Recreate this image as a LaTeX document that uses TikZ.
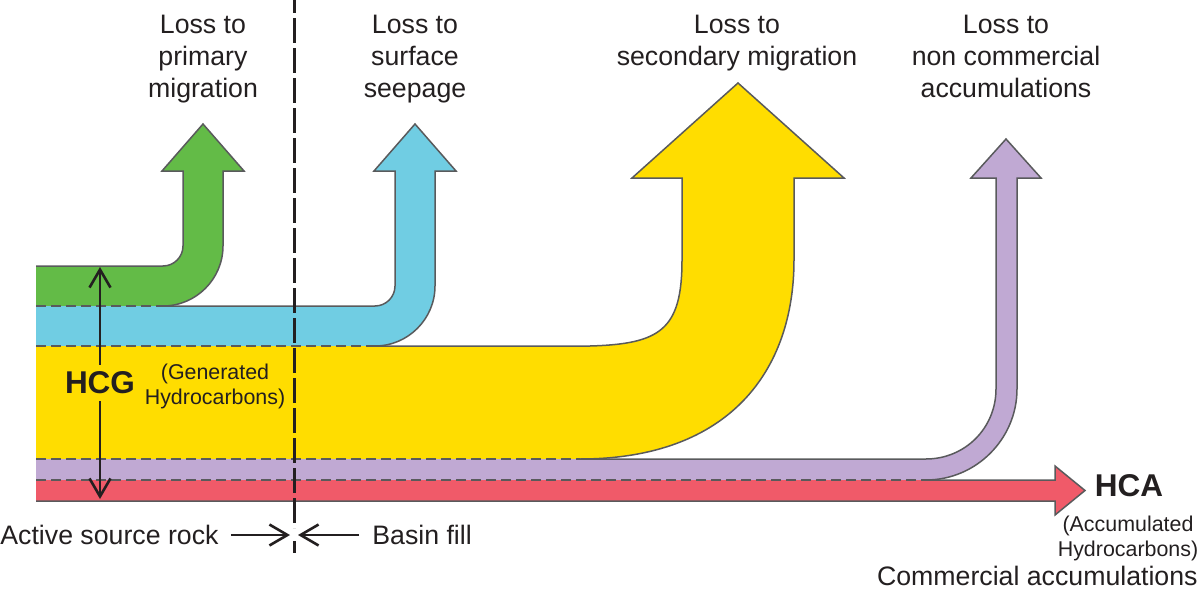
\documentclass[tikz,border=0pt]{standalone}
\usepackage{fontspec}
\setmainfont{Liberation Sans}
\usepackage{tikz}
\usetikzlibrary{arrows.meta,positioning}

\definecolor{hcgreen}{HTML}{63BB47}
\definecolor{hcblue}{HTML}{70CDE3}
\definecolor{hcyellow}{HTML}{FFDD00}
\definecolor{hcpurple}{HTML}{C0A9D3}
\definecolor{hcred}{HTML}{F05A69}
\definecolor{edge}{HTML}{595A5C}
\definecolor{ink}{HTML}{231F20}

% exposed outline of each band (pixel units, y downwards)
\def\greenband{(36,266) -- (163,266) .. controls (174,266) and (183,257) .. (183,246) -- (183,171) -- (162,171) -- (203,124) -- (244,171) -- (223,171) -- (223,246) .. controls (223,279) and (196,306) .. (163,306)}
\def\blueband{(163,306) -- (375,306) .. controls (386,306) and (395,297) .. (395,286) -- (395,171) -- (374,171) -- (415,124) -- (456,171) -- (435,171) -- (435,286) .. controls (435,319) and (408,346) .. (375,346)}
\def\yellowband{(375,346) -- (590,346) .. controls (660,344) and (682,330) .. (682,260) -- (682,178) -- (632,178) -- (738,83) -- (844,178) -- (794,178) -- (794,260) .. controls (794,370) and (730,459) .. (580,459)}
\def\purpleband{(580,459) -- (926,459) .. controls (965,459) and (996,428) .. (996,389) -- (996,178) -- (971,178) -- (1006,139) -- (1041,178) -- (1017,178) -- (1017,389) .. controls (1017,439) and (976,480) .. (926,480)}
\def\redband{(926,480) -- (1055,480) -- (1055,466) -- (1085,490.5) -- (1055,515) -- (1055,501) -- (36,501)}

\begin{document}
\begin{tikzpicture}[x=0.5pt, y=-0.5pt,
  outline/.style={draw=edge, line width=0.75pt},
  seam/.style={draw=edge, line width=0.6pt, dash pattern=on 5pt off 2.5pt},
  divider/.style={draw=ink, line width=1.5pt, dash pattern=on 12.5pt off 2.5pt, dash phase=6pt},
  barb/.style={draw=ink, line width=1.3pt, -{Straight Barb[length=9pt,width=10.5pt]}},
  label/.style={font=\fontsize{13.35}{16}\selectfont, align=center, inner sep=0pt, text=ink},
  small/.style={font=\fontsize{10.7}{12.5}\selectfont, align=center, inner sep=0pt, text=ink},
  big/.style={font=\fontsize{15.75}{19}\selectfont\bfseries, inner sep=3.3pt, text=ink}]

  \useasboundingbox (0,0) rectangle (1200,589);

  % bands
  \fill[hcgreen] \greenband -- (36,306) -- cycle;
  \fill[hcblue] \blueband -- (36,346) -- (36,306) -- cycle;
  \fill[hcyellow] \yellowband -- (36,459) -- (36,346) -- cycle;
  \fill[hcpurple] \purpleband -- (36,480) -- (36,459) -- cycle;
  \fill[hcred] \redband -- (36,480) -- cycle;

  \draw[outline] \greenband;
  \draw[outline] \blueband;
  \draw[outline] \yellowband;
  \draw[outline] \purpleband;
  \draw[outline] \redband;

  \draw[seam] (36,306) -- (163,306);
  \draw[seam] (36,346) -- (375,346);
  \draw[seam] (36,459) -- (580,459);
  \draw[seam] (36,480) -- (926,480);

  % source rock / basin fill divide
  \draw[divider] (294,0) -- (294,528);
  \draw[divider, dash phase=0pt] (294,541) -- (294,553);

  % labels
  \node[label, anchor=north] (lossprim) at (203,15) {Loss to\\primary\\migration};
  \node[label, anchor=north] (lossseep) at (415,15) {Loss to\\surface\\seepage};
  \node[label, anchor=north] (losssec) at (737,15) {Loss to\\secondary migration};
  \node[label, anchor=north] (lossnon) at (1006,15) {Loss to\\non commercial\\accumulations};

  \node[big] (hcg) at (100,383) {HCG};
  \node[small] (gen) at (215,386) {(Generated\\Hydrocarbons)};
  \coordinate (hcgtop) at (100,267);
  \coordinate (hcgbot) at (100,499);
  \draw[barb] (hcg.north) -- (hcgtop);
  \draw[barb] (hcg.south) -- (hcgbot);

  \node[big] (hca) at (1129,486) {HCA};
  \node[small] (acc) at (1128,538) {(Accumulated\\Hydrocarbons)};
  \node[label, anchor=east] (comm) at (1198,576) {Commercial accumulations};

  \node[label, anchor=west] (asr) at (0,535) {Active source rock};
  \node[label, anchor=west] (basin) at (372,535) {Basin fill};
  \coordinate (divL) at (290,535);
  \coordinate (divR) at (298,535);
  \draw[barb] ([xshift=6pt]asr.east) -- (divL);
  \draw[barb] ([xshift=-6.5pt]basin.west) -- (divR);
\end{tikzpicture}
\end{document}
